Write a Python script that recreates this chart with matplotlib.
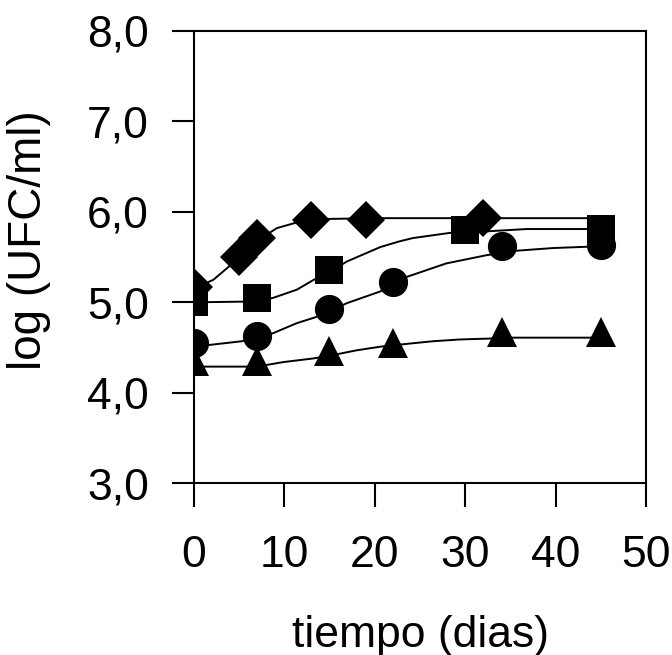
import numpy as np
import matplotlib
matplotlib.use('Agg')
import matplotlib.pyplot as plt

plt.rcParams['font.family'] = ['Liberation Sans', 'DejaVu Sans']

# measured points (days, log UFC/ml)
dia_x = [0, 5, 7, 13, 19, 32]
dia_y = [5.17, 5.50, 5.71, 5.91, 5.91, 5.93]
sq_x = [0, 7, 15, 30, 45]
sq_y = [5.00, 5.05, 5.36, 5.80, 5.81]
circ_x = [0, 7, 15, 22, 34, 45]
circ_y = [4.55, 4.63, 4.93, 5.23, 5.62, 5.63]
tri_x = [0, 7, 15, 22, 34, 45]
tri_y = [4.35, 4.35, 4.46, 4.55, 4.67, 4.67]

# fitted curves, points
dia_fit_x = [0, 2.2, 4.9, 7, 9.2, 10.6, 12, 14, 20, 45]
dia_fit_y = [5.15, 5.25, 5.48, 5.68, 5.82, 5.86, 5.90, 5.92, 5.93, 5.93]
sq_fit_x = [0, 7, 8.8, 11.4, 13.2, 15, 16.9, 20.6, 22.6, 24.2, 28.5, 31.6, 36.8, 45]
sq_fit_y = [5.00, 5.01, 5.05, 5.14, 5.245, 5.33, 5.45, 5.61, 5.67, 5.71, 5.77, 5.78, 5.81, 5.81]
circ_fit_x = [0, 1.8, 5.3, 7, 8.8, 11.4, 13.6, 15, 16.9, 20.6, 23.5, 27.9, 32.3, 35.6, 39.7, 45]
circ_fit_y = [4.52, 4.53, 4.57, 4.61, 4.66, 4.77, 4.84, 4.90, 4.99, 5.12, 5.28, 5.43, 5.52, 5.57, 5.60, 5.62]
tri_fit_x = [0, 7, 9.9, 13.2, 15, 18, 20.6, 23.9, 26.4, 29.4, 32.7, 34, 45]
tri_fit_y = [4.29, 4.29, 4.34, 4.38, 4.41, 4.47, 4.51, 4.545, 4.57, 4.59, 4.60, 4.61, 4.61]

fig = plt.figure(figsize=(6.72, 6.55), dpi=100)
ax = fig.add_axes([0.288, 0.262, 0.674, 0.691])

for fx, fy in [(dia_fit_x, dia_fit_y), (sq_fit_x, sq_fit_y),
               (circ_fit_x, circ_fit_y), (tri_fit_x, tri_fit_y)]:
    ax.plot(fx, fy, color='black', lw=1.4, zorder=2)

ax.plot(tri_x, tri_y, ls='none', marker='^', ms=21.5, color='black', mew=0, zorder=3)
ax.plot(circ_x, circ_y, ls='none', marker='o', ms=21, color='black', mew=0, zorder=3)
ax.plot(sq_x, sq_y, ls='none', marker='s', ms=20.5, color='black', mew=0, zorder=3)
ax.plot(dia_x, dia_y, ls='none', marker='D', ms=19, color='black', mew=0, zorder=4)

ax.set_xlim(0, 50)
ax.set_ylim(3, 8)
ax.set_xticks([0, 10, 20, 30, 40, 50])
ax.set_yticks([3, 4, 5, 6, 7, 8])
ax.set_yticklabels(['3,0', '4,0', '5,0', '6,0', '7,0', '8,0'])

for s in ax.spines.values():
    s.set_linewidth(1.5)
ax.tick_params(axis='y', direction='out', length=16, width=1.5, labelsize=32, pad=16)
ax.tick_params(axis='x', direction='out', length=17, width=1.5, labelsize=32, pad=20)

ax.set_xlabel('tiempo (dias)', fontsize=32, labelpad=28)
ax.set_ylabel('log (UFC/ml)', fontsize=33)
ax.yaxis.set_label_coords(-0.315, 0.538)

fig.savefig('out.png', dpi=100)
